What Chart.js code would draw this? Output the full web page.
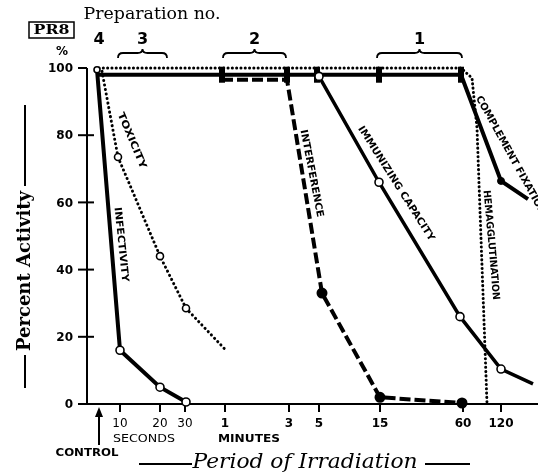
<!DOCTYPE html>
<html>
<head>
<meta charset="utf-8">
<script src="https://cdn.jsdelivr.net/npm/chart.js@4.4.1/dist/chart.umd.min.js"></script>
<style>
  html, body { margin: 0; padding: 0; background: #fff; }
  canvas { display: block; }
</style>
</head>
<body>
<canvas id="chart" width="538" height="476"></canvas>
<script>
// positions along the (non-uniform) irradiation axis, in axis units
const controlPos = 1.2;
const tickPos = [3.3, 7.3, 9.8, 13.8, 20.2, 23.2, 29.3, 37.6, 41.4];
const tickLabels = ['10', '20', '30', '1', '3', '5', '15', '60', '120'];
const yTicks = [0, 20, 40, 60, 80, 100];

// series (x = axis position, y = percent activity)
const infectivityX = [1.0, 3.3, 7.3, 9.9];
const infectivityY = [99.5, 16, 5, 0.6];

const toxicityX = [1.5, 3.1, 7.3, 9.9, 13.8];
const toxicityY = [99, 73.5, 44, 28.5, 16.3];

const hemaggX = [1.2, 37.4, 38.5, 39.0, 40.0];
const hemaggY = [100, 100, 97, 82, 0];

const complementX = [1.2, 13.5, 20.0, 23.0, 29.2, 37.4, 41.4, 44.1];
const complementY = [98, 98, 98, 98, 98, 98, 66.4, 61];

const interferenceX = [13.5, 20.0, 23.5, 29.3, 37.5];
const interferenceY = [96.5, 96.5, 33, 2, 0.3];

const immunizingX = [23.2, 29.2, 37.3, 41.4, 44.6];
const immunizingY = [97.5, 66, 26, 10.4, 6];

const pts = (xs, ys) => xs.map((x, i) => ({ x: x, y: ys[i] }));

// curve captions: anchor in axis units, angle in degrees, length in px
const captions = [
  { text: 'TOXICITY', x: 4.45, y: 78.4, angle: 67, len: 60 },
  { text: 'INFECTIVITY', x: 3.4, y: 47.5, angle: 84, len: 75 },
  { text: 'INTERFERENCE', x: 22.45, y: 68.6, angle: 79, len: 89 },
  { text: 'IMMUNIZING CAPACITY', x: 30.9, y: 65.6, angle: 57.5, len: 134 },
  { text: 'HEMAGGLUTINATION', x: 40.4, y: 47.3, angle: 85, len: 110 },
  { text: 'COMPLEMENT FIXATION', x: 42.35, y: 74.0, angle: 61, len: 134 }
];

// preparation brackets: [label, from, to]
const preps = [['3', 3.1, 8.0], ['2', 13.6, 19.9], ['1', 29.0, 37.5]];

function fitText(ctx, text, cx, cy, width, font, angle) {
  ctx.save();
  ctx.font = font;
  const w = ctx.measureText(text).width;
  ctx.translate(cx, cy);
  ctx.rotate((angle || 0) * Math.PI / 180);
  ctx.scale(width / w, 1);
  ctx.textAlign = 'center';
  ctx.textBaseline = 'middle';
  ctx.fillText(text, 0, 0);
  ctx.restore();
}

function brace(ctx, x1, x2, y) {
  const m = (x1 + x2) / 2;
  ctx.beginPath();
  ctx.moveTo(x1, y + 5);
  ctx.quadraticCurveTo(x1, y, x1 + 5, y);
  ctx.lineTo(m - 5, y);
  ctx.quadraticCurveTo(m, y, m, y - 4);
  ctx.quadraticCurveTo(m, y, m + 5, y);
  ctx.lineTo(x2 - 5, y);
  ctx.quadraticCurveTo(x2, y, x2, y + 5);
  ctx.stroke();
}

const decor = {
  id: 'decor',
  beforeDatasetsDraw(chart) {
    const ctx = chart.ctx;
    const xs = chart.scales.x, ys = chart.scales.y;
    const x0 = xs.getPixelForValue(0);
    const y0 = ys.getPixelForValue(0);
    ctx.save();
    ctx.strokeStyle = '#000';
    ctx.fillStyle = '#000';
    ctx.lineWidth = 2;
    // axes
    ctx.beginPath();
    ctx.moveTo(x0, ys.getPixelForValue(100));
    ctx.lineTo(x0, y0);
    ctx.moveTo(x0 - 9, y0);
    ctx.lineTo(chart.width, y0);
    ctx.stroke();
    // y ticks
    ctx.font = 'bold 12px "DejaVu Sans"';
    ctx.textAlign = 'right';
    ctx.textBaseline = 'middle';
    yTicks.forEach(v => {
      const y = ys.getPixelForValue(v);
      if (v > 0) {
        ctx.beginPath();
        ctx.moveTo(x0 - 9, y);
        ctx.lineTo(x0 + (v === 100 ? 0 : 7), y);
        ctx.stroke();
      }
      ctx.fillText(String(v), x0 - 14, y + 1);
    });
    ctx.textAlign = 'center';
    ctx.fillText('%', x0 - 25, ys.getPixelForValue(100) - 16);
    // x ticks
    tickPos.forEach((p, i) => {
      const x = xs.getPixelForValue(p);
      ctx.beginPath();
      ctx.moveTo(x, y0);
      ctx.lineTo(x, y0 + 8);
      ctx.stroke();
      ctx.font = (i >= 3 ? 'bold ' : '') + '12px "DejaVu Sans"';
      ctx.fillText(tickLabels[i], x, y0 + 20);
    });
    // control arrow
    const cx = xs.getPixelForValue(controlPos);
    ctx.beginPath();
    ctx.moveTo(cx, y0 + 41);
    ctx.lineTo(cx, y0 + 8);
    ctx.stroke();
    ctx.beginPath();
    ctx.moveTo(cx, y0 + 3);
    ctx.lineTo(cx - 4, y0 + 13);
    ctx.lineTo(cx + 4, y0 + 13);
    ctx.closePath();
    ctx.fill();
    fitText(ctx, 'CONTROL', cx - 12, y0 + 49, 63, 'bold 11px "DejaVu Sans"', 0);
    fitText(ctx, 'SECONDS', 144, y0 + 35, 62, '11px "DejaVu Sans"', 0);
    fitText(ctx, 'MINUTES', 249, y0 + 35, 62, 'bold 11px "DejaVu Sans"', 0);
    // x title
    fitText(ctx, 'Period of Irradiation', 305, y0 + 59, 225, 'italic 20px "DejaVu Serif"', 0);
    ctx.beginPath();
    ctx.moveTo(139, y0 + 60); ctx.lineTo(192, y0 + 60);
    ctx.moveTo(425, y0 + 60); ctx.lineTo(470, y0 + 60);
    ctx.stroke();
    // y title
    fitText(ctx, 'Percent Activity', 25, 271, 160, 'bold 18px "DejaVu Serif"', -90);
    ctx.beginPath();
    ctx.moveTo(25, 105); ctx.lineTo(25, 186);
    ctx.moveTo(25, 355); ctx.lineTo(25, 388);
    ctx.stroke();
    // header
    fitText(ctx, 'Preparation no.', 152, 15, 137, '17px "DejaVu Serif"', 0);
    ctx.lineWidth = 1.5;
    ctx.strokeRect(29, 22, 45, 16);
    fitText(ctx, 'PR8', 51.5, 30.5, 36, 'bold 13px "DejaVu Serif"', 0);
    ctx.font = 'bold 16px "DejaVu Sans"';
    ctx.textAlign = 'center';
    ctx.fillText('4', xs.getPixelForValue(controlPos), 40);
    ctx.lineWidth = 1.8;
    preps.forEach(p => {
      const a = xs.getPixelForValue(p[1]), b = xs.getPixelForValue(p[2]);
      ctx.fillText(p[0], (a + b) / 2, 40);
      brace(ctx, a, b, 53);
    });
    ctx.restore();
  },
  afterDraw(chart) {
    const ctx = chart.ctx;
    const xs = chart.scales.x, ys = chart.scales.y;
    ctx.save();
    ctx.fillStyle = '#000';
    captions.forEach(c => {
      fitText(ctx, c.text, xs.getPixelForValue(c.x), ys.getPixelForValue(c.y), c.len,
        'bold 10px "DejaVu Sans Condensed", "DejaVu Sans"', c.angle);
    });
    ctx.restore();
  }
};

const openPt = { pointStyle: 'circle', pointBackgroundColor: '#fff', pointBorderColor: '#000', pointBorderWidth: 1.6 };

new Chart(document.getElementById('chart'), {
  type: 'line',
  data: {
    datasets: [
      Object.assign({
        label: 'Infectivity', data: pts(infectivityX, infectivityY),
        borderColor: '#000', borderWidth: 4, pointRadius: [3, 4, 4, 4]
      }, openPt),
      Object.assign({
        label: 'Toxicity', data: pts(toxicityX, toxicityY),
        borderColor: '#000', borderWidth: 3, borderDash: [0.1, 4.5], borderCapStyle: 'round',
        pointRadius: [0, 3.5, 3.5, 3.5, 0]
      }, openPt),
      Object.assign({
        label: 'Immunizing capacity', data: pts(immunizingX, immunizingY),
        borderColor: '#000', borderWidth: 3.5, pointRadius: [4, 4, 4, 4, 0]
      }, openPt),
      {
        label: 'Complement fixation', data: pts(complementX, complementY),
        borderColor: '#000', borderWidth: 4,
        pointStyle: ctx => (ctx.dataIndex >= 1 && ctx.dataIndex <= 5) ? 'line' : 'circle',
        rotation: 90,
        pointRadius: [0, 8, 8, 8, 8, 8, 3.5, 0],
        pointBorderWidth: ctx => (ctx.dataIndex >= 1 && ctx.dataIndex <= 5) ? 6 : 1,
        pointBackgroundColor: '#000', pointBorderColor: '#000'
      },
      {
        label: 'Interference', data: pts(interferenceX, interferenceY),
        borderColor: '#000', borderWidth: 4, borderDash: [11, 4],
        pointRadius: [0, 0, 3.5, 3.5, 3.5],
        pointBackgroundColor: '#000', pointBorderColor: '#000'
      },
      {
        label: 'Hemagglutination', data: pts(hemaggX, hemaggY),
        borderColor: '#000', borderWidth: 3, borderDash: [0.1, 4.2], borderCapStyle: 'round',
        pointRadius: 0
      }
    ]
  },
  options: {
    responsive: false,
    animation: false,
    clip: false,
    layout: { autoPadding: false, padding: { left: 87, right: 0, top: 68, bottom: 72 } },
    elements: { line: { tension: 0, fill: false } },
    scales: {
      x: { type: 'linear', min: 0, max: 45.1, display: false },
      y: { min: 0, max: 100, display: false }
    },
    plugins: { legend: { display: false }, tooltip: { enabled: false } }
  },
  plugins: [decor]
});
</script>
</body>
</html>
